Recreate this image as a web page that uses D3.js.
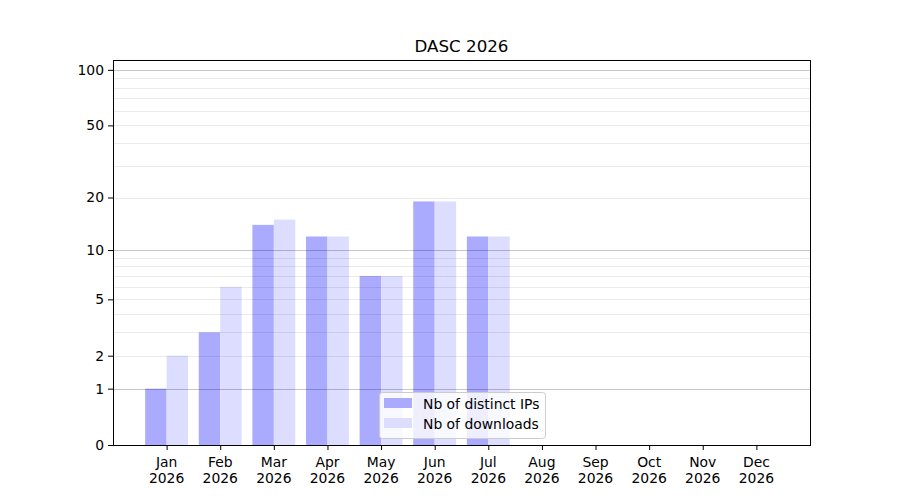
<!DOCTYPE html>
<html>
<head>
<meta charset="utf-8">
<script src="https://cdn.jsdelivr.net/npm/d3@7"></script>
<style>
  body { margin: 0; background: #fff; }
  text { font-family: "DejaVu Sans", sans-serif; fill: #000; }
</style>
</head>
<body>
<script>
// data
const months = ["Jan", "Feb", "Mar", "Apr", "May", "Jun", "Jul", "Aug", "Sep", "Oct", "Nov", "Dec"];
const year = "2026";
const distinctIPs = [1, 3, 14, 12, 7, 19, 12, 0, 0, 0, 0, 0];
const downloads = [2, 6, 15, 12, 7, 19, 12, 0, 0, 0, 0, 0];
const yTicks = [0, 1, 2, 5, 10, 20, 50, 100];
const majorGrid = [1, 10, 100];
const minorGrid = [2, 3, 4, 5, 6, 7, 8, 9, 20, 30, 40, 50, 60, 70, 80, 90];

const W = 900, H = 500;
const plotL = 113, plotR = 810, plotT = 60, plotB = 445;

const svg = d3.select("body").append("svg").attr("width", W).attr("height", H);

// x: month index, one slot of padding each side
const x = d3.scaleLinear().domain([-1, 12]).range([plotL, plotR]);
const step = x(1) - x(0);
const barW = step * 0.4;

// y: log10(v+1) style scale
const y = d3.scaleSymlog().constant(1).domain([0, 113]).range([plotB, plotT]);

// bars
svg.append("g").selectAll("rect")
  .data(distinctIPs)
  .enter()
  .append("rect")
  .attr("x", (d, i) => x(i) - barW)
  .attr("y", d => y(d))
  .attr("width", barW)
  .attr("height", d => plotB - y(d))
  .attr("fill", "#aaaaff");

svg.append("g").selectAll("rect")
  .data(downloads)
  .enter()
  .append("rect")
  .attr("x", (d, i) => x(i))
  .attr("y", d => y(d))
  .attr("width", barW)
  .attr("height", d => plotB - y(d))
  .attr("fill", "#ddddff");

// grid on top of the bars
svg.append("g").selectAll("line")
  .data(minorGrid)
  .enter()
  .append("line")
  .attr("x1", plotL).attr("x2", plotR)
  .attr("y1", d => Math.round(y(d)) + 0.5).attr("y2", d => Math.round(y(d)) + 0.5)
  .attr("stroke", "rgba(0,0,0,0.08)");

svg.append("g").selectAll("line")
  .data(majorGrid)
  .enter()
  .append("line")
  .attr("x1", plotL).attr("x2", plotR)
  .attr("y1", d => Math.round(y(d)) + 0.5).attr("y2", d => Math.round(y(d)) + 0.5)
  .attr("stroke", "rgba(0,0,0,0.22)");

// axes
const yAxis = d3.axisLeft(y).tickValues(yTicks).tickFormat(d3.format("d")).tickSize(5).tickPadding(4);
const gy = svg.append("g").attr("transform", `translate(${plotL},0)`).call(yAxis);
gy.select(".domain").remove();
gy.selectAll("text").style("font-size", "13.9px");

const xAxis = d3.axisBottom(x).tickValues(d3.range(12)).tickFormat("").tickSize(5);
const gx = svg.append("g").attr("transform", `translate(0,${plotB})`).call(xAxis);
gx.select(".domain").remove();

const xl = svg.append("g").selectAll("text")
  .data(months)
  .enter()
  .append("text")
  .attr("text-anchor", "middle")
  .style("font-size", "13.9px");
xl.append("tspan").attr("x", (d, i) => x(i)).attr("y", plotB + 22).text(d => d);
xl.append("tspan").attr("x", (d, i) => x(i)).attr("y", plotB + 38).text(year);

// frame
svg.append("rect")
  .attr("x", plotL + 0.5).attr("y", plotT + 0.5)
  .attr("width", plotR - plotL).attr("height", plotB - plotT)
  .attr("fill", "none").attr("stroke", "#000").attr("stroke-width", 1);

// title
svg.append("text")
  .attr("x", (plotL + plotR) / 2).attr("y", 52)
  .attr("text-anchor", "middle")
  .style("font-size", "16.7px")
  .text("DASC " + year);

// legend
const lg = svg.append("g").attr("transform", "translate(379.5,392.5)");
lg.append("rect")
  .attr("width", 166).attr("height", 46).attr("rx", 3)
  .attr("fill", "rgba(255,255,255,0.8)").attr("stroke", "#cccccc");
const items = [["Nb of distinct IPs", "#aaaaff"], ["Nb of downloads", "#ddddff"]];
items.forEach((it, i) => {
  lg.append("rect").attr("x", 4.5).attr("y", 5.5 + i * 20).attr("width", 28).attr("height", 10).attr("fill", it[1]);
  lg.append("text").attr("x", 43.5).attr("y", 16.5 + i * 20).style("font-size", "13.9px").text(it[0]);
});
</script>
</body>
</html>
